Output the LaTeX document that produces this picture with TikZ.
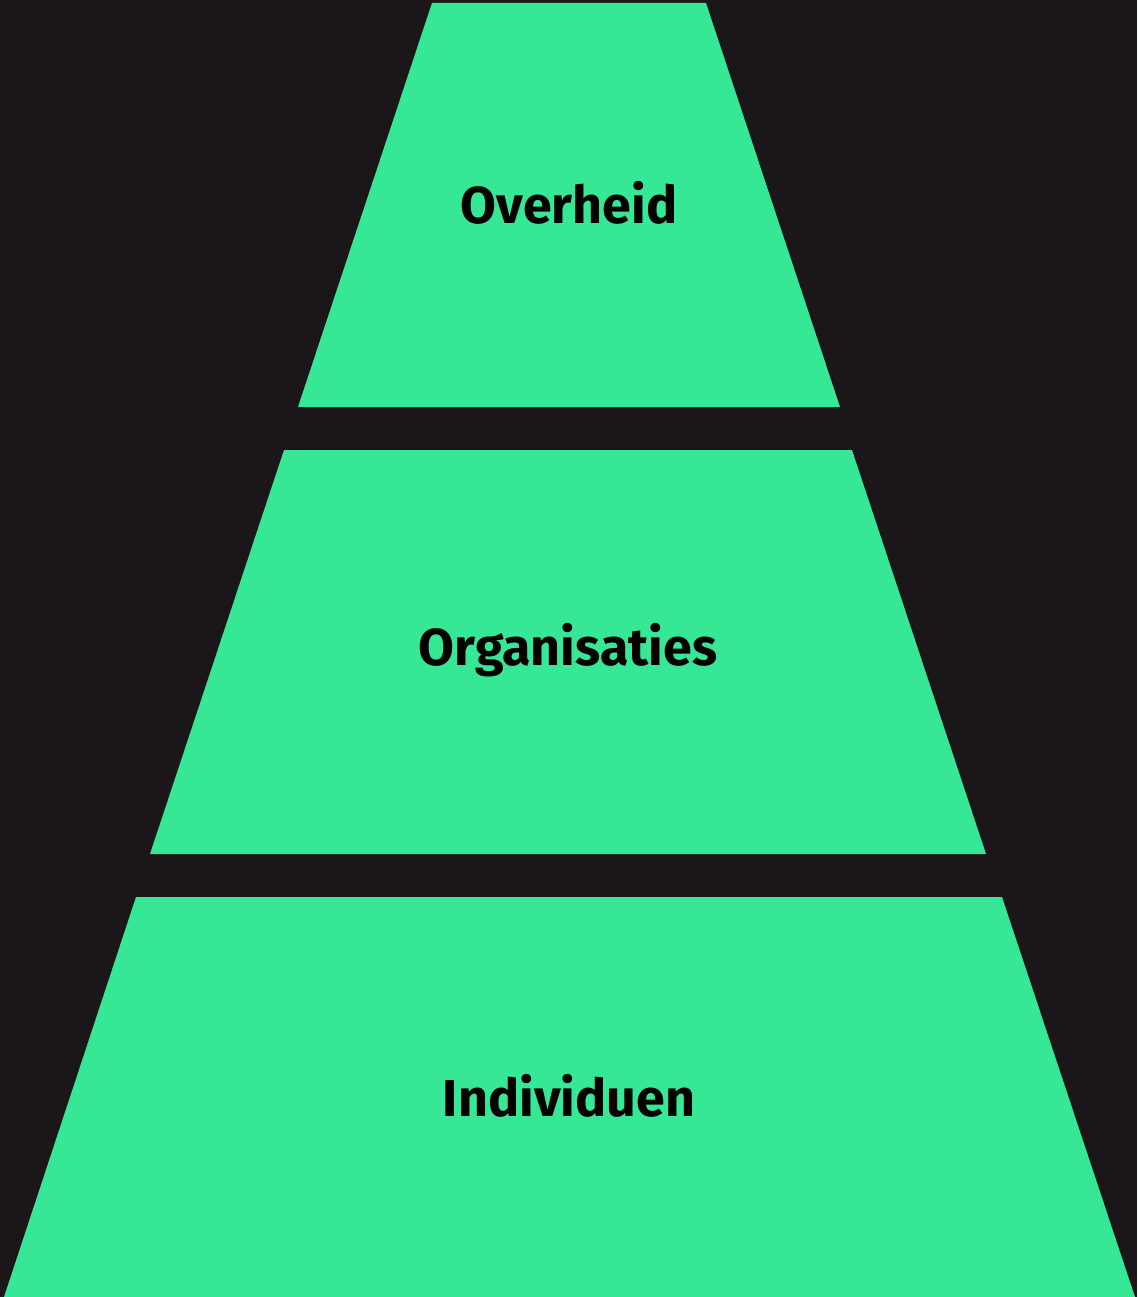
\documentclass[tikz,border=0pt]{standalone}
\usepackage{fontspec}
\setmainfont{Fira Sans}
\usepackage{tikz}
\usetikzlibrary{positioning,calc}
\definecolor{lvlg}{RGB}{54,232,150}
\definecolor{lvlbg}{RGB}{26,22,25}
\tikzset{
	every node/.style = { align = center },
	lvl/.style = { fill=lvlg },
	lbl/.style = { font=\fontsize{52}{60}\selectfont\bfseries, text=black, xscale=1.0 },
}

\begin{document}
\begin{tikzpicture}[x=1pt,y=-1pt]
\fill[lvlbg] (0,0) rectangle (1137,1297);
\useasboundingbox (0,0) rectangle (1137,1297);

% pyramid levels
\fill[lvl] (432,3)   -- (706,3)   -- (840,407)  -- (298,407)  -- cycle;
\fill[lvl] (284,450) -- (852,450) -- (986,854)  -- (150,854)  -- cycle;
\fill[lvl] (136,897) -- (1002,897) -- (1135,1297) -- (4,1297) -- cycle;

\node (ovh) [lbl] at (569,203)  {Overheid};
\node (org) [lbl] at (568,650)  {Organisaties};
\node (ind) [lbl] at (569,1096) {Individuen};

\end{tikzpicture}
\end{document}
